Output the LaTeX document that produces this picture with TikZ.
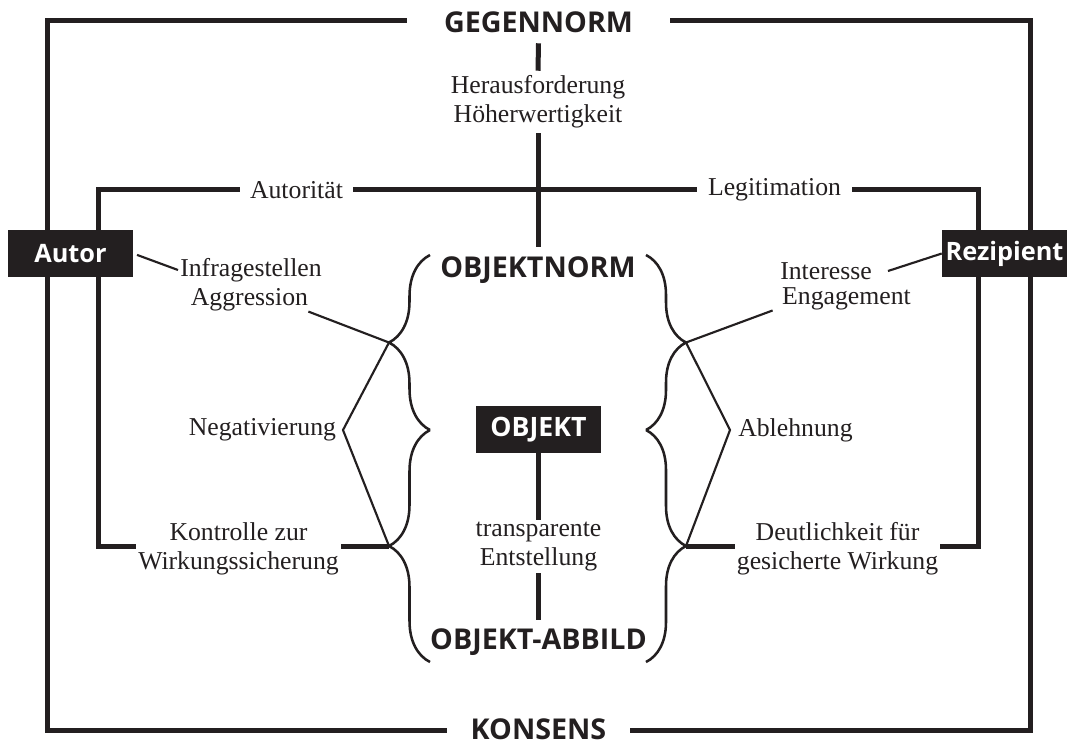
\documentclass[tikz,border=0pt]{standalone}
\usepackage{fontspec}
\setmainfont{Liberation Serif}
\newfontfamily\sansb{Open Sans}
\usetikzlibrary{decorations.pathreplacing}
\definecolor{ink}{RGB}{35,31,32}
\tikzset{
  thickline/.style={draw=ink,line width=3.75pt},
  thinline/.style={draw=ink,line width=1.6pt},
  curly/.style={draw=ink,line width=1.9pt,decorate,decoration={brace,amplitude=#1}},
  lbl/.style={font=\fontsize{19.3}{22}\selectfont,text=ink,align=center,inner sep=0pt},
  caps/.style={font=\sansb\bfseries\fontsize{21.5}{25}\selectfont,text=ink,inner sep=0pt},
  blackbox/.style={fill=ink,text=white,font=\sansb\bfseries\fontsize{19}{22}\selectfont,
    inner sep=0pt,minimum width=93.75pt,minimum height=35.25pt}
}
\begin{document}
\begin{tikzpicture}[x=0.75pt,y=-0.75pt]
\useasboundingbox (0,0) rectangle (1067,744);
% corner coordinates
\coordinate (TL) at (47,20);
\coordinate (TR) at (1030,20);
\coordinate (BL) at (47,730);
\coordinate (BR) at (1030,730);
\coordinate (cross) at (538,189);
\coordinate (ITL) at (98,189);
\coordinate (IBL) at (98,546);
\coordinate (ITR) at (978,189);
\coordinate (IBR) at (978,546);
% brace coordinates
\coordinate (LB0) at (430,255);
\coordinate (LBM) at (430,430);
\coordinate (LB1) at (430,662);
\coordinate (RB0) at (646,255);
\coordinate (RBM) at (646,430);
\coordinate (RB1) at (646,662);
\coordinate (LT1) at (389,342.5);
\coordinate (LT2) at (389,546);
\coordinate (RT1) at (686,342.5);
\coordinate (RT2) at (686,546);

% text nodes
\node[caps,minimum width=197.25pt,minimum height=31.5pt] (gegen) at (538.5,22) {GEGENNORM};
\node[caps,minimum width=137.25pt] (konsens) at (538.5,729) {KONSENS};
\node[lbl,minimum height=46.5pt] (heraus) at (538,102) {Herausforderung\\Höherwertigkeit};
\node[caps,minimum height=34.5pt] (objnorm) at (538,270) {OBJEKTNORM};
\node[lbl,minimum width=84.75pt] (autoritaet) at (296.5,190) {Autorität};
\node[lbl,minimum width=116.25pt] (legit) at (774.5,190) {Legitimation};
\node[lbl,minimum width=153.75pt] (kontrolle) at (238.5,549) {Kontrolle zur\\Wirkungssicherung};
\node[lbl,minimum width=153.75pt] (deutlich) at (837.5,549) {Deutlichkeit für\\gesicherte Wirkung};
\node[lbl,inner xsep=1.5pt] (infrag) at (251,270) {Infragestellen};
\node[lbl] (aggr) at (249.5,300) {Aggression};
\node[lbl,inner xsep=12pt] (interesse) at (826,271) {Interesse};
\node[lbl,inner xsep=7pt] (engag) at (846.5,299) {Engagement};
\node[lbl,anchor=east,inner xsep=5pt] (negativ) at (343,430) {Negativierung};
\node[lbl,anchor=west,inner xsep=6pt] (ablehn) at (730,430) {Ablehnung};
\node[lbl,minimum height=39.75pt] (transp) at (538.5,546.5) {transparente\\Entstellung};
\node[caps,minimum height=33pt] (abbild) at (538.5,642) {OBJEKT-ABBILD};

% outer frame
\draw[thickline] (gegen.west |- TL) -- (TL) -- (BL) -- (konsens.west |- BL);
\draw[thickline] (gegen.east |- TR) -- (TR) -- (BR) -- (konsens.east |- BR);
% central axis
\draw[thickline] (gegen.south) -- (heraus.north);
\draw[thickline] (heraus.south) -- (objnorm.north);
% inner brackets
\draw[thickline] (autoritaet.east |- cross) -- (legit.west |- cross);
\draw[thickline] (autoritaet.west |- cross) -- (ITL) -- (IBL) -- (kontrolle.west |- IBL);
\draw[thickline] (kontrolle.east |- IBL) -- (LT2);
\draw[thickline] (legit.east |- cross) -- (ITR) -- (IBR) -- (deutlich.east |- IBR);
\draw[thickline] (deutlich.west |- IBR) -- (RT2);

% braces
\draw[curly=30.75pt] (LBM) -- (LB0);
\draw[curly=30.75pt] (LB1) -- (LBM);
\draw[curly=30pt] (RB0) -- (RBM);
\draw[curly=30pt] (RBM) -- (RB1);

% black boxes
\node[blackbox] (autor) at (70.5,253.5) {Autor};
\node[blackbox] (rezip) at (1004.5,253.5) {Rezipient};
\node[blackbox,font=\sansb\bfseries\fontsize{20}{24}\selectfont] (objekt) at (538.5,429.5) {OBJEKT};

% object axis
\draw[thickline] (objekt.south) -- (transp.north);
\draw[thickline] (transp.south) -- (abbild.north);

% thin connectors
\draw[thinline,shorten <=3pt] (autor.east) -- (infrag.west);
\draw[thinline] (rezip.west) -- (interesse.east);
\draw[thinline,line join=miter] (aggr.south east) -- (LT1) -- (negativ.east) -- (LT2);
\draw[thinline,line join=miter] (engag.south west) -- (RT1) -- (ablehn.west) -- (RT2);
\end{tikzpicture}
\end{document}
